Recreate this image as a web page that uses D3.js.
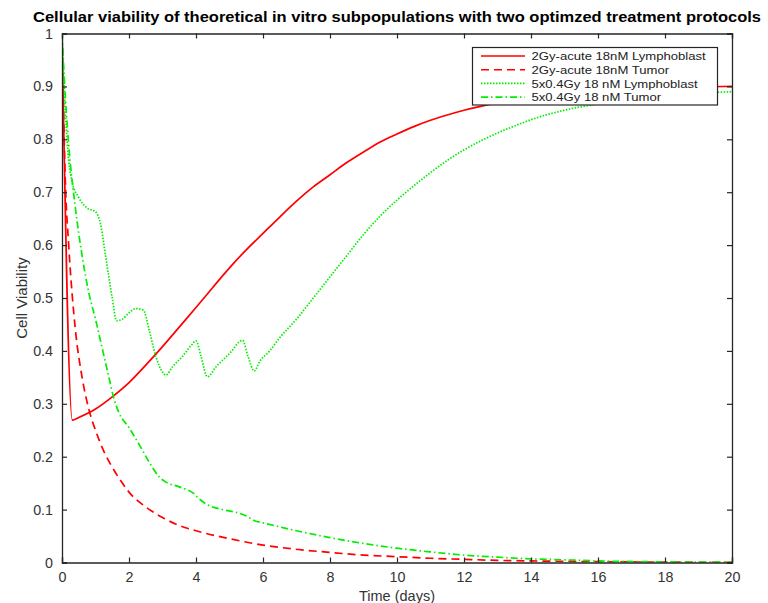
<!DOCTYPE html>
<html><head><meta charset="utf-8">
<script src="https://cdn.jsdelivr.net/npm/d3@7"></script>
<style>
body{margin:0;background:#fff;}
svg{display:block;font-family:"Liberation Sans",Arial,Helvetica,sans-serif;}
</style></head><body>
<svg id="c" width="768" height="603"></svg>
<script>
const titleText = "Cellular viability of theoretical in vitro subpopulations with two optimzed treatment protocols";
const xLabel = "Time (days)";
const yLabel = "Cell Viability";
const xTicks = [0,2,4,6,8,10,12,14,16,18,20];
const yTicks = [0,0.1,0.2,0.3,0.4,0.5,0.6,0.7,0.8,0.9,1];
const seriesNames = ["2Gy-acute 18nM Lymphoblast","2Gy-acute 18nM Tumor","5x0.4Gy 18 nM Lymphoblast","5x0.4Gy 18 nM Tumor"];

const acuteLymphT = [0,0.31,0.5,1,1.5,2,2.5,3,3.5,4,4.5,5,5.5,6,6.5,7,7.5,8,8.5,9,9.5,10,10.5,11,11.5,12,13,14,15,16,17,18,19,20];
const acuteLymphV = [1,0.269,0.274,0.29,0.313,0.34,0.373,0.408,0.445,0.482,0.52,0.557,0.591,0.622,0.653,0.683,0.71,0.733,0.756,0.776,0.795,0.81,0.824,0.836,0.846,0.855,0.869,0.879,0.886,0.891,0.895,0.897,0.899,0.9];

const acuteTumorT = [0,0.1,0.2,0.4,0.6,0.8,1,1.25,1.5,1.75,2,2.5,3,3.5,4,5,6,7,8,9,10,11,12,13,14,16,18,20];
const acuteTumorV = [1,0.72,0.6,0.44,0.35,0.29,0.25,0.21,0.18,0.155,0.133,0.105,0.085,0.07,0.06,0.045,0.033,0.025,0.019,0.014,0.011,0.008,0.006,0.004,0.003,0.0015,0.0007,0.0003];

const fracLymphT = [0,0.1,0.2,0.3,0.5,0.75,1,1.15,1.3,1.5,1.63,1.8,2,2.2,2.43,2.6,2.8,3,3.1,3.3,3.6,3.85,4,4.15,4.34,4.6,5,5.39,5.55,5.74,5.9,6.2,6.5,7,7.5,8,8.5,9,9.5,10,10.5,11,11.5,12,12.5,13,13.5,14,15,16,17,18,19,20];
const fracLymphV = [1,0.85,0.76,0.72,0.69,0.67,0.663,0.64,0.58,0.5,0.457,0.46,0.472,0.48,0.477,0.44,0.39,0.36,0.354,0.37,0.39,0.41,0.419,0.39,0.351,0.37,0.395,0.42,0.39,0.362,0.38,0.4,0.425,0.46,0.5,0.54,0.58,0.62,0.655,0.685,0.712,0.737,0.76,0.78,0.797,0.812,0.825,0.837,0.855,0.867,0.876,0.882,0.887,0.89];

const fracTumorT = [0,0.1,0.2,0.4,0.6,0.8,1,1.2,1.4,1.55,1.7,2,2.33,2.6,2.9,3.1,3.5,3.92,4.1,4.32,4.8,5.3,5.5,5.75,6,7,8,9,10,11,12,13,14,15,16,18,20];
const fracTumorV = [1,0.88,0.79,0.67,0.58,0.51,0.46,0.405,0.35,0.31,0.283,0.255,0.22,0.19,0.162,0.152,0.143,0.131,0.12,0.11,0.1,0.093,0.088,0.079,0.075,0.06,0.047,0.036,0.027,0.02,0.014,0.01,0.007,0.005,0.003,0.0012,0.0005];

const svg = d3.select("#c");
const L=62, R=732, T=33.5, B=562.5;
const x = d3.scaleLinear().domain([0,20]).range([L,R]);
const y = d3.scaleLinear().domain([0,1]).range([B,T]);
const axisColor="#262626";

svg.append("text").attr("x",397).attr("y",22).attr("text-anchor","middle")
  .attr("font-weight","bold").attr("font-size",15).attr("fill","#000")
  .attr("textLength",728).attr("lengthAdjust","spacingAndGlyphs").text(titleText);

svg.append("defs").append("clipPath").attr("id","clip").append("rect")
  .attr("x",L).attr("y",T-1).attr("width",R-L).attr("height",B-T+1);

const series = [
  {t:acuteLymphT, v:acuteLymphV, color:"#ff0000", dash:null},
  {t:acuteTumorT, v:acuteTumorV, color:"#ff0000", dash:"8,5"},
  {t:fracLymphT, v:fracLymphV, color:"#00ee00", dash:"1.5,1.5"},
  {t:fracTumorT, v:fracTumorV, color:"#00ee00", dash:"7,3,1.5,3"}
];
const line = d3.line().x(d=>x(d[0])).y(d=>y(d[1])).curve(d3.curveMonotoneX);
const g = svg.append("g").attr("clip-path","url(#clip)");
series.forEach(s=>{
  g.append("path").datum(s.t.map((t,i)=>[t,s.v[i]]))
   .attr("d",line).attr("fill","none").attr("stroke",s.color)
   .attr("stroke-width",1.7).attr("stroke-dasharray",s.dash);
});

// axes
const ax = svg.append("g").attr("transform",`translate(0,${B})`)
  .call(d3.axisBottom(x).tickValues(xTicks).tickSize(-5).tickPadding(9.5).tickFormat(d3.format("d")));
const axT = svg.append("g").attr("transform",`translate(0,${T})`)
  .call(d3.axisTop(x).tickValues(xTicks).tickSize(-5).tickFormat(""));
const ay = svg.append("g").attr("transform",`translate(${L},0)`)
  .call(d3.axisLeft(y).tickValues(yTicks).tickSize(-5).tickPadding(9).tickFormat(d=>d===0?"0":d===1?"1":d3.format(".1f")(d)));
const ayR = svg.append("g").attr("transform",`translate(${R},0)`)
  .call(d3.axisRight(y).tickValues(yTicks).tickSize(-5).tickFormat(""));
[ax,axT,ay,ayR].forEach(a=>{
  a.selectAll("path").attr("stroke",axisColor).attr("stroke-width",1.3);
  a.selectAll("line").attr("stroke",axisColor).attr("stroke-width",1.2);
  a.selectAll("text").attr("font-size",14.3).attr("fill","#333")
   .attr("font-family",'"Liberation Sans",Arial,sans-serif');
});

svg.append("text").attr("x",397).attr("y",600.5).attr("text-anchor","middle")
  .attr("font-size",14.5).attr("fill","#333").text(xLabel);
svg.append("text").attr("transform","translate(27,298) rotate(-90)").attr("text-anchor","middle")
  .attr("font-size",15).attr("fill","#333").text(yLabel);

// legend
const lg = svg.append("g");
lg.append("rect").attr("x",472.5).attr("y",47.5).attr("width",245).attr("height",57.5)
  .attr("fill","#fff").attr("stroke",axisColor).attr("stroke-width",1.2);
series.forEach((s,i)=>{
  const yy = 56 + i*13.7;
  lg.append("line").attr("x1",481).attr("x2",525).attr("y1",yy).attr("y2",yy)
    .attr("stroke",s.color).attr("stroke-width",1.6).attr("stroke-dasharray",s.dash);
  const tx = lg.append("text").attr("x",531.5).attr("y",yy+4.2).attr("font-size",11.8).attr("fill","#222")
    .text(seriesNames[i]);
  const w = tx.node().getComputedTextLength();
  tx.attr("textLength", w*1.11).attr("lengthAdjust","spacingAndGlyphs");
});
</script>
</body></html>
